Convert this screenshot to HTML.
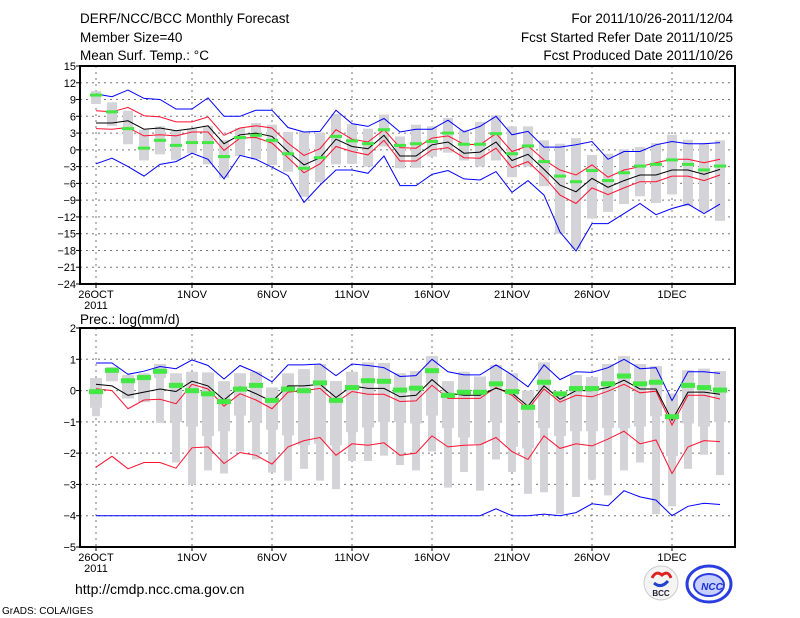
<!DOCTYPE html>
<html><head><meta charset="utf-8"><style>
body{margin:0;background:#fff;}
svg{display:block;font-family:"Liberation Sans",sans-serif;}
</style></head><body>
<svg id="c" width="800" height="618" xmlns="http://www.w3.org/2000/svg">
<g font-size="13.5" fill="#000">
<text x="80" y="23">DERF/NCC/BCC Monthly Forecast</text>
<text x="80" y="42">Member Size=40</text>
<text x="80" y="60">Mean Surf. Temp.: °C</text>
<text x="733" y="23" text-anchor="end">For 2011/10/26-2011/12/04</text>
<text x="733" y="42" text-anchor="end">Fcst Started Refer Date 2011/10/25</text>
<text x="733" y="60" text-anchor="end">Fcst Produced Date 2011/10/26</text>
</g>
<text x="80" y="324" font-size="13.5">Prec.: log(mm/d)</text>
<g id="top"></g>
<g id="bot"></g>
<text x="75" y="594" font-size="14">http://cmdp.ncc.cma.gov.cn</text>
<text x="2" y="614" font-size="10">GrADS: COLA/IGES</text>
<g>
<circle cx="661" cy="583" r="17" fill="#f4f4f4" stroke="#ccc"/>
<path d="M652 578 q4 -8 10 -3 q6 -5 9 3" stroke="#d22" stroke-width="3" fill="none"/>
<path d="M654 583 q7 6 14 -2" stroke="#2244cc" stroke-width="3" fill="none"/>
<text x="661" y="596" font-size="8" font-weight="bold" text-anchor="middle" fill="#223">BCC</text>
</g>
<g>
<ellipse cx="709" cy="584" rx="22" ry="18" fill="#fff" stroke="#2a3de0" stroke-width="3"/>
<ellipse cx="709" cy="585" rx="15" ry="11" fill="#c8d0ff" stroke="#2a3de0" stroke-width="2"/>
<text x="712" y="590" font-size="10" font-weight="bold" font-style="italic" text-anchor="middle" fill="#1a2dd0">NCC</text>
</g>
</svg>
<script>
const days = [26,27,28,29,30,31,1,2,3,4,5,6,7,8,9,10,11,12,13,14,15,16,17,18,19,20,21,22,23,24,25,26,27,28,29,30,1,2,3,4];
const xTickLabels = ["26OCT","1NOV","6NOV","11NOV","16NOV","21NOV","26NOV","1DEC"];
const xTickIdx = [0,6,11,16,21,26,31,36];
// temperature
const tTicks = [15,12,9,6,3,0,-3,-6,-9,-12,-15,-18,-21,-24];
const tBlueHi = [10,9.5,10.7,9.2,9,7.3,7.3,9.3,6,6,7.1,7.1,4,3.2,3.3,7.1,4.7,4.2,5.6,3.2,3.7,3.7,5.3,3.2,4.2,6,2.7,3.3,0.5,0.5,0.9,1.5,-1.7,-0.3,-0.3,0.9,1.5,1.1,1.1,1.3];
const tBlueLo = [-2.5,-1.5,-3,-4.7,-2.6,-2.1,-0.6,-1.7,-5.2,-1,-1.7,-3.1,-4.6,-9.4,-6.3,-3.6,-3.6,-4.2,-1.1,-6.4,-6.4,-4.4,-3.7,-5.2,-5.4,-3.9,-7.6,-5.5,-8.1,-14.7,-18.1,-13.2,-13.2,-11.4,-9.6,-11.6,-10.5,-9.7,-11.4,-9.7];
const tRedHi = [7,6.8,7.6,6.1,5.9,5,5,5.9,2.6,3.9,4.3,3.9,1.2,-1,0.2,3.6,1.9,1.4,3.6,0.4,0.3,2.1,2.5,1,0.9,2.9,-0.3,0.7,-1.8,-3.6,-4.5,-2.7,-4.9,-3.6,-3,-2.3,-1.7,-1.7,-2.3,-1.7];
const tRedLo = [3.8,3.7,4,2.5,2.7,2.5,3.2,3.2,-0.1,2.1,2.2,1.2,-1.4,-4.1,-2.5,0.6,-0.3,-0.9,1.7,-2,-2,0,0.4,-1.4,-1.5,0.3,-3.2,-2.1,-4.8,-8.1,-9.6,-6.8,-8,-6.8,-5.7,-5.7,-4.7,-4.7,-5.5,-4.5];
const tMean = [4.8,4.8,5.2,3.7,3.9,3.4,3.8,4.3,1.1,2.7,3,2.4,-0.3,-2.7,-1.4,1.9,0.6,0.2,2.6,-1.1,-1.1,0.9,1.4,-0.6,-0.4,1.4,-1.9,-0.8,-3.5,-6.3,-7.5,-5.1,-6.7,-5.5,-4.5,-4.5,-3.6,-3.6,-4.4,-3.5];
const tObs = [9.8,6.8,3.8,0.3,1.7,0.8,1.3,1.3,-1.2,2.2,2.6,1.7,-0.7,-3.3,-1.4,2.4,1.6,1.1,3.6,0.8,1.1,1.5,3,1,1,2.9,-0.7,0.7,-2.1,-4.7,-5.7,-3.7,-5.5,-4.1,-2.9,-2.6,-1.8,-2.6,-3.6,-2.9];
const tBoxHi = [10.5,8.5,7,3.6,4.2,3.4,3.8,4.3,1.8,3.9,4.8,4.5,3.2,3.3,3.1,6.4,4.6,3.8,6.3,2.4,4.5,4.2,5.7,3.6,5,6.2,4.2,4.2,1.7,1.1,2.1,-0.9,-0.7,0.1,0.5,1.2,2.7,1.8,1.2,1.7];
const tBoxLo = [8.2,4.3,1,-1.9,-0.8,-1.8,-0.6,-2.6,-5,-1.1,-1.7,-2.7,-3.9,-8.4,-5.8,-2.6,-2.5,-3,0.6,-3.3,-3.2,-1.2,-0.5,-1.9,-3,-1.9,-4.9,-3,-6.5,-15,-17.7,-12.3,-11.1,-9.7,-8.3,-9.5,-8,-10.1,-11.1,-12.7];
// precipitation
const pTicks = [2,1,0,-1,-2,-3,-4,-5];
const pBlueHi = [.88,.88,.52,.62,.77,.7,.98,.8,.37,.8,.58,.28,.82,.82,.85,.48,.85,.8,.73,.45,.48,1,.6,.5,.5,.82,.5,.12,.82,.35,.6,.58,.73,1,.7,.73,-.32,.6,.6,.55];
const pBlueLo = [-4,-4,-4,-4,-4,-4,-4,-4,-4,-4,-4,-4,-4,-4,-4,-4,-4,-4,-4,-4,-4,-4,-4,-4,-4,-3.78,-4,-4,-3.95,-4,-3.9,-3.62,-3.68,-3.2,-3.4,-3.5,-4,-3.7,-3.6,-3.64];
const pRedHi = [.06,0,-.58,-.3,-.28,-.42,.2,.05,-.5,-.1,-.3,-.58,-.05,0,.07,-.38,-.03,-.12,-.12,-.35,-.33,.17,-.25,-.25,-.25,.1,-.15,-.6,.05,-.37,-.15,-.2,-.02,.2,-.07,-.02,-1.1,-.15,-.15,-.27];
const pRedLo = [-2.45,-2.1,-2.5,-2.3,-2.3,-2.48,-1.83,-1.8,-2.33,-1.98,-2.07,-2.35,-1.8,-1.6,-1.5,-2.07,-1.7,-1.75,-1.67,-2.07,-2,-1.45,-1.8,-1.75,-1.73,-1.5,-1.95,-2.2,-1.45,-1.85,-1.7,-1.77,-1.55,-1.3,-1.7,-1.58,-2.65,-1.8,-1.6,-1.63];
const pMean = [.2,.15,-.15,-.05,.05,-.03,.3,.15,-.3,.12,-.1,-.35,.15,.15,.2,-.22,.15,.07,.07,-.2,-.15,.35,-.08,-.15,-.15,.08,-.08,-.5,.15,-.28,0,0,.1,.33,.05,.05,-.95,-.05,-.05,-.12];
const pObs = [-.05,.63,.3,.4,.6,.15,-.02,-.12,-.37,.03,.15,-.33,.03,-.02,.23,-.33,.08,.3,.28,0,.06,.62,-.17,-.07,-.07,.2,-.05,-.55,.25,-.12,.05,.05,.2,.45,.2,.25,-.85,.15,.08,0];
const pBoxHi = [.4,.75,.5,.55,.85,.55,.6,.58,.3,.55,.6,.1,.55,.68,.85,.3,.6,.9,.88,.55,.62,1.1,.3,.6,.45,.82,.55,0,.9,-.1,.5,.43,.85,1.1,.85,.78,-.1,.65,.7,.62];
const pBoxLo = [-.82,.3,-.25,-.37,-1.03,-2.3,-3,-2.55,-2.65,-1.95,-2.2,-2.62,-2.88,-2.5,-2.88,-3.15,-2.25,-2.25,-2.08,-2.38,-2.55,-1.95,-3.1,-2.6,-3.2,-2.2,-2.6,-3.3,-3.25,-3.95,-3.4,-2.85,-3.35,-2.55,-2.3,-3.95,-3.7,-2.5,-2.05,-2.7];
const pBoxMid = [-.55,.3,-.25,-.37,.4,-1,-1.15,-1.45,-1.3,-.8,-1,-1.25,-1.43,-1.75,-1.7,-1.75,-1.33,-1.18,-1,-1,-1.05,-.8,-1.2,-1.5,-1.7,-1,-1.8,-1.85,-1.2,-1.45,-1.3,-1.3,-1.2,-1.2,-1.15,-.82,-2.1,-1.05,-1.15,-1];

const NS="http://www.w3.org/2000/svg";
const X0=80, X1=735;
const xs = i => 96 + 16*i;
function mk(p,tag,a){const e=document.createElementNS(NS,tag);for(const k in a)e.setAttribute(k,a[k]);p.appendChild(e);return e;}

function panel(g, y0, y1, vmax, vmin, ticks, prefix){
  const ys = v => y0 + (vmax - v)*(y1-y0)/(vmax-vmin);
  // grid
  ticks.forEach(t=>{ if(t!==vmax && t!==vmin){
    const l=mk(g,'line',{x1:X0,x2:X1,y1:ys(t),y2:ys(t),stroke:'#777','stroke-dasharray':'2,4','stroke-width':1});
    
    
  }});
  xTickIdx.forEach(i=>{
    const l=mk(g,'line',{x1:xs(i),x2:xs(i),y1:y0,y2:y1,stroke:'#777','stroke-dasharray':'2,4','stroke-width':1});
    
    
  });
  return ys;
}
function line(g, arr, ys, color, name, w){
  const pts = arr.map((v,i)=>xs(i)+','+ys(v).toFixed(1)).join(' ');
  const p=mk(g,'polyline',{points:pts,fill:'none',stroke:color,'stroke-width':w||1});
  
  
}
function frame(g,y0,y1,ticks,ys,prefix,fmt){
  const r=mk(g,'rect',{x:X0,y:y0,width:X1-X0,height:y1-y0,fill:'none',stroke:'#000','stroke-width':2});
  
  
  ticks.forEach(t=>{
    const y=ys(t);
    mk(g,'line',{x1:X0-4,x2:X0,y1:y,y2:y,stroke:'#000'});
    const tx=mk(g,'text',{x:X0-4,y:y+4,'text-anchor':'end','font-size':11});
    tx.textContent=fmt(t);
    
    
  });
  xTickIdx.forEach((i,k)=>{
    mk(g,'line',{x1:xs(i),x2:xs(i),y1:y1,y2:y1+4,stroke:'#000'});
    const tx=mk(g,'text',{x:xs(i),y:y1+14,'text-anchor':'middle','font-size':11});
    tx.textContent=xTickLabels[k];
    
    
  });
  const yr=mk(g,'text',{x:xs(0),y:y1+25,'text-anchor':'middle','font-size':11});
  yr.textContent='2011';
  
  
}

// Top panel
const gt=document.getElementById('top');
const yt=panel(gt,66,284,15,-24,tTicks,'temp');
tBoxHi.forEach((h,i)=>{
  const r=mk(gt,'rect',{x:xs(i)-5,y:yt(h),width:10,height:yt(tBoxLo[i])-yt(h),fill:'#d3d3d8'});
  
  
});
line(gt,tBlueHi,yt,'#0000ff','temp-max-line');
line(gt,tBlueLo,yt,'#0000ff','temp-min-line');
line(gt,tRedHi,yt,'#ff1030','temp-upper-line');
line(gt,tRedLo,yt,'#ff1030','temp-lower-line');
line(gt,tMean,yt,'#000','temp-mean-line');
tObs.forEach((v,i)=>{
  const r=mk(gt,'rect',{x:xs(i)-6,y:yt(v)-1.5,width:12,height:3,fill:'#44e844'});
  
  
});
frame(gt,66,284,tTicks,yt,'temp',t=>t<0?'\u2212'+(-t):''+t);

// Bottom panel
const gb=document.getElementById('bot');
const yb=panel(gb,328,547,2,-5,pTicks,'prec');
pBoxHi.forEach((h,i)=>{
  const r=mk(gb,'rect',{x:xs(i)-4,y:yb(h),width:8,height:yb(pBoxLo[i])-yb(h),fill:'#d3d3d8'});
  
  
  const r2=mk(gb,'rect',{x:xs(i)-6,y:yb(h),width:12,height:Math.max(0,yb(pBoxMid[i])-yb(h)),fill:'#d3d3d8'});
  
  
});
line(gb,pBlueHi,yb,'#0000ff','prec-max-line');
line(gb,pBlueLo,yb,'#0000ff','prec-min-line');
line(gb,pRedHi,yb,'#ff1030','prec-upper-line');
line(gb,pRedLo,yb,'#ff1030','prec-lower-line');
line(gb,pMean,yb,'#000','prec-mean-line');
pObs.forEach((v,i)=>{
  const r=mk(gb,'rect',{x:xs(i)-7,y:yb(v)-3,width:14,height:5,fill:'#44e844'});
  
  
});
frame(gb,328,547,pTicks,yb,'prec',t=>t<0?'\u2212'+(-t):''+t);
</script>
</body></html>
